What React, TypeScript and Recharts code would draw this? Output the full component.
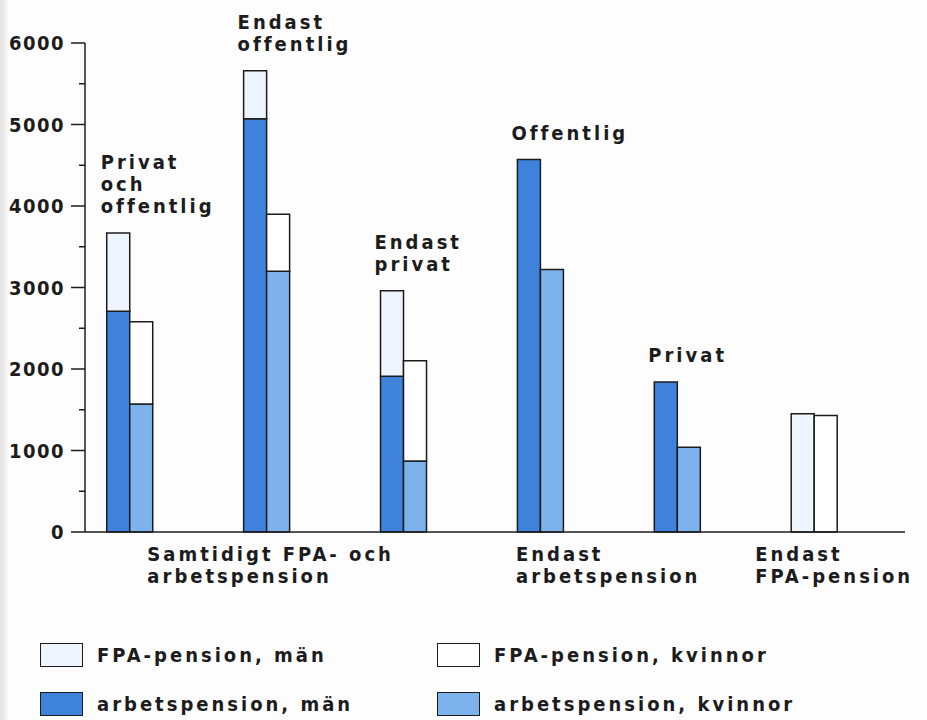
import { Bar, BarChart, LabelList, XAxis, YAxis } from "recharts";

const groups = ["Privat och offentlig", "Endast offentlig", "Endast privat", "Offentlig", "Privat", "Endast FPA-pension"];
const notes = ["Privat\noch\noffentlig", "Endast\noffentlig", "Endast\nprivat", "Offentlig", "Privat", ""];

const arbetMen = [2710, 5070, 1910, 4570, 1840, 0];
const fpaMen = [960, 590, 1050, 0, 0, 1450];
const arbetWomen = [1570, 3200, 870, 3220, 1040, 0];
const fpaWomen = [1010, 700, 1230, 0, 0, 1430];

const yTicks = [0, 500, 1000, 1500, 2000, 2500, 3000, 3500, 4000, 4500, 5000, 5500, 6000];

// x-axis group captions, centred on the axis value given in `at`
const xCaptions = [
    { at: 1, lines: ["Samtidigt FPA- och", "arbetspension"] },
    { at: 3.45, lines: ["Endast", "arbetspension"] },
    { at: 5.1, lines: ["Endast", "FPA-pension"] },
];

const series = [
    { key: "arbetMen", stack: "m", fill: "#3f82dc", name: "arbetspension, män" },
    { key: "fpaMen", stack: "m", fill: "#eff5fc", name: "FPA-pension, män" },
    { key: "arbetWomen", stack: "w", fill: "#7db2ec", name: "arbetspension, kvinnor" },
    { key: "fpaWomen", stack: "w", fill: "#ffffff", name: "FPA-pension, kvinnor" },
];

const legendOrder = ["fpaMen", "fpaWomen", "arbetMen", "arbetWomen"];

const FONT = '"DejaVu Sans Condensed", "DejaVu Sans", sans-serif';
const INK = "#1c1c1c";
const SPACING = 3;
const txt = { fontStretch: "condensed" as const };

const data = groups.map((g, i) => ({
    x: i,
    group: g,
    arbetMen: arbetMen[i],
    fpaMen: fpaMen[i],
    arbetWomen: arbetWomen[i],
    fpaWomen: fpaWomen[i],
    // the note goes on whichever segment tops the men's stack
    noteA: fpaMen[i] > 0 ? "" : notes[i],
    noteF: fpaMen[i] > 0 ? notes[i] : "",
}));

const YTick = (props: any) => {
    const { x, y, payload } = props;
    const major = payload.value % 1000 === 0;
    return (
        <g>
            <line x1={x - (major ? 14 : 6)} x2={x} y1={y} y2={y} stroke={INK} strokeWidth={1.5} />
            {major && (
                <text x={x - 20} y={y} dy={7} textAnchor="end" fontFamily={FONT} fontSize={20} fontWeight="bold"
                    letterSpacing={1.5} fill={INK} style={txt}>
                    {payload.value}
                </text>
            )}
        </g>
    );
};

const XTick = (props: any) => {
    const { x, y, payload } = props;
    const cap = xCaptions.find((c) => c.at === payload.value);
    if (!cap) return null;
    const w = Math.max(...cap.lines.map((l) => l.length)) * 13.3;
    const left = x - w / 2;
    return (
        <text x={left} y={y} fontFamily={FONT} fontSize={20} fontWeight="bold" letterSpacing={SPACING} fill={INK} style={txt}>
            {cap.lines.map((l, i) => (
                <tspan key={i} x={left} dy={i === 0 ? 29 : 22}>{l}</tspan>
            ))}
        </text>
    );
};

const Note = (props: any) => {
    const { x, y, value } = props;
    if (!value) return null;
    const lines = String(value).split("\n");
    const top = y - 20 - (lines.length - 1) * 22;
    return (
        <text x={x - 6} y={top} fontFamily={FONT} fontSize={20} fontWeight="bold" letterSpacing={SPACING} fill={INK} style={txt}>
            {lines.map((l, i) => (
                <tspan key={i} x={x - 6} dy={i === 0 ? 0 : 22}>{l}</tspan>
            ))}
        </text>
    );
};

export default function App() {
    return (
        <div
            style={{
                position: "absolute",
                left: 0,
                top: 0,
                width: 927,
                height: 720,
                background: "linear-gradient(to right, #e4e4e4 0px, #efefef 5px, #fdfdfd 9px)",
            }}
        >
            <BarChart width={927} height={720} data={data} barGap={0} barSize={23}
                margin={{ top: 43, right: 22, bottom: 128, left: 0 }}>
                <YAxis type="number" domain={[0, 6000]} ticks={yTicks} interval={0} width={85}
                    tickSize={0} tickMargin={0} tickLine={false} axisLine={{ stroke: INK, strokeWidth: 1.5 }}
                    tick={<YTick />} />
                <XAxis type="number" dataKey="x" domain={[-0.33, 5.66]} ticks={xCaptions.map((c) => c.at)}
                    interval={0} height={60} tickSize={0} tickMargin={0} tickLine={false}
                    axisLine={{ stroke: INK, strokeWidth: 1.5 }} tick={<XTick />} />
                {series.map((s) => (
                    <Bar key={s.key} dataKey={s.key} stackId={s.stack} fill={s.fill} stroke={INK} strokeWidth={1.5}
                        isAnimationActive={false}>
                        {s.key === "arbetMen" && <LabelList dataKey="noteA" content={<Note />} />}
                        {s.key === "fpaMen" && <LabelList dataKey="noteF" content={<Note />} />}
                    </Bar>
                ))}
            </BarChart>
            {legendOrder.map((k, i) => {
                const s = series.find((d) => d.key === k)!;
                const col = i % 2;
                const row = Math.floor(i / 2);
                return (
                    <div key={k} style={{ position: "absolute", left: col ? 437 : 40, top: row ? 692 : 643, display: "flex", alignItems: "center" }}>
                        <div style={{ width: 41, height: 22, background: s.fill, border: `1.5px solid ${INK}` }} />
                        <span style={{ marginLeft: 14, fontFamily: FONT, fontStretch: "condensed", fontWeight: "bold", fontSize: 20,
                            letterSpacing: SPACING, color: INK, lineHeight: "24px" }}>
                            {s.name}
                        </span>
                    </div>
                );
            })}
        </div>
    );
}
